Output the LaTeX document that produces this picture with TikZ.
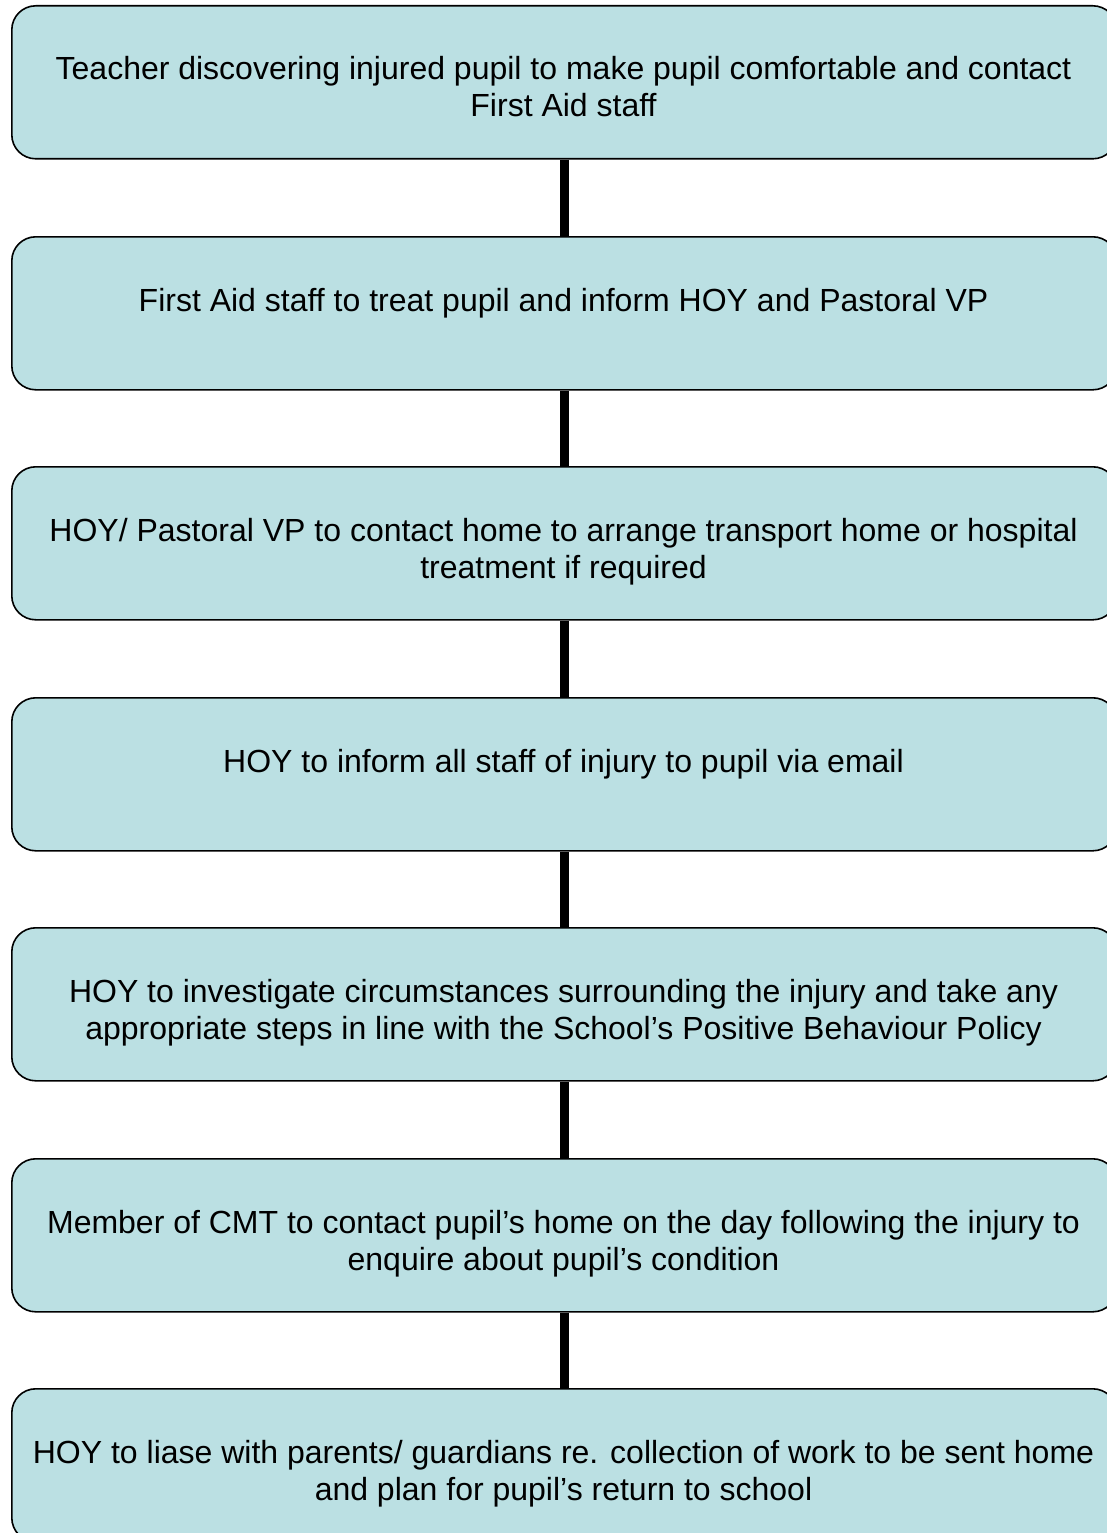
\documentclass[tikz,border=0pt]{standalone}
\usepackage{fontspec}
\setmainfont{Liberation Sans}
\definecolor{boxfill}{RGB}{187,224,227}
\begin{document}
\begin{tikzpicture}[x=1pt,y=1pt,
  stepbox/.style={draw=black, line width=1.6pt, fill=boxfill, rounded corners=24pt,
    minimum width=1105pt, minimum height=153pt, inner sep=0pt, anchor=north west},
  steptext/.style={anchor=base, inner sep=0pt, font=\fontsize{32}{37}\selectfont},
  link/.style={line width=9pt, black}]
\useasboundingbox (0,0) rectangle (1107,-1533);
\foreach \i/\t in {1/5,2/236,3/466,4/697,5/927,6/1158,7/1388}{
  \node[stepbox] (b\i) at (11,-\t) {};
}
\foreach \a/\b in {1/2,2/3,3/4,4/5,5/6,6/7}{
  \draw[link] (b\a.south) -- (b\b.north);
}
\foreach \i/\t/\txt in {
  1/5/{Teacher discovering injured pupil to make pupil comfortable and contact\\First Aid staff},
  2/236/{First Aid staff to treat pupil and inform HOY and Pastoral VP},
  3/466/{HOY/ Pastoral VP to contact home to arrange transport home or hospital\\treatment if required},
  4/697/{HOY to inform all staff of injury to pupil via email},
  5/927/{HOY to investigate circumstances surrounding the injury and take any\\appropriate steps in line with the School’s Positive Behaviour Policy},
  6/1158/{Member of CMT to contact pupil’s home on the day following the injury to\\enquire about pupil’s condition},
  7/1388/{HOY to liase with parents/ guardians re. collection of work to be sent home\\and plan for pupil’s return to school}}{
  \node[steptext] (t\i) at (563.5,-\t-75) {\parbox[t]{1100pt}{\centering\txt}};
}
\end{tikzpicture}
\end{document}
